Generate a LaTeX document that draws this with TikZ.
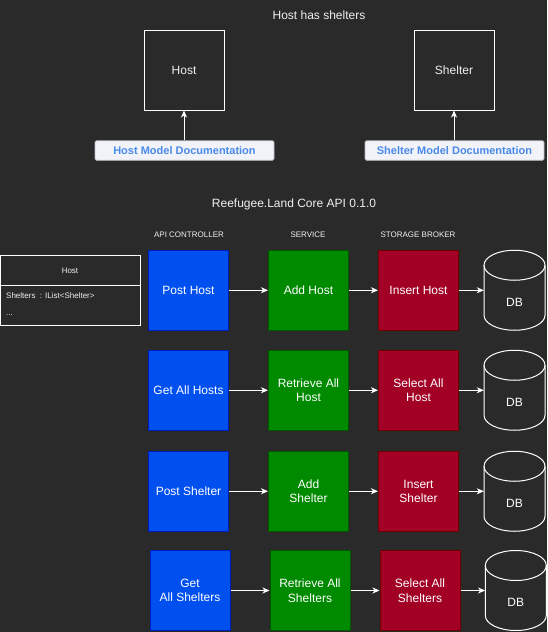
\documentclass[tikz,border=0pt]{standalone}
\usepackage{fontspec}
\setmainfont{Liberation Sans}
\usetikzlibrary{arrows.meta}
\definecolor{bg}{HTML}{2A2A2A}
\definecolor{ctrlfill}{HTML}{0050EF}
\definecolor{ctrlstroke}{HTML}{001DBC}
\definecolor{svcfill}{HTML}{008A00}
\definecolor{svcstroke}{HTML}{005700}
\definecolor{brkfill}{HTML}{A20025}
\definecolor{brkstroke}{HTML}{6F0000}
\definecolor{docfill}{HTML}{F1F3F8}
\definecolor{docstroke}{HTML}{B8BCC4}
\definecolor{doctext}{HTML}{4A8AE8}
\definecolor{lighttext}{HTML}{F0F0F0}
\newcommand\fs[2]{\fontsize{#1}{#2}\selectfont}
\tikzset{
  box/.style={rectangle, minimum width=80pt, minimum height=80pt, inner sep=0pt,
    line width=1pt, text=white, font=\fs{12}{14.5}, align=center},
  ctrl/.style={box, fill=ctrlfill, draw=ctrlstroke},
  svc/.style={box, fill=svcfill, draw=svcstroke},
  brk/.style={box, fill=brkfill, draw=brkstroke},
  model/.style={box, draw=white, text=lighttext},
  doc/.style={rectangle, rounded corners=1.5pt, fill=docfill, draw=docstroke, line width=0.8pt,
    minimum width=179pt, minimum height=19.5pt, inner sep=0pt, text=doctext, font=\bfseries\fs{11}{13}},
  dbnode/.style={rectangle, minimum width=61pt, minimum height=80pt, inner sep=0pt},
  dbline/.style={draw=white, line width=1pt},
  conn/.style={draw=white, line width=1pt, -{Stealth[length=7pt,width=6pt,inset=2pt]}},
  hdr/.style={text=lighttext, font=\fs{8}{10}, inner sep=0pt},
  ttl/.style={text=lighttext, font=\fs{12}{14.5}, inner sep=0pt},
  clstext/.style={text=lighttext, font=\fs{8}{10}, inner sep=0pt},
}
% \dbcyl{name}{center x}{top y}
\newcommand\dbcyl[3]{%
  \node[dbnode] (#1) at (#2,#3+40) {};
  \draw[dbline] (#2-30.5,#3+15) -- (#2-30.5,#3+65)
     .. controls (#2-30.5,#3+73.28) and (#2-16.84,#3+80) .. (#2,#3+80)
     .. controls (#2+16.84,#3+80) and (#2+30.5,#3+73.28) .. (#2+30.5,#3+65)
     -- (#2+30.5,#3+15);
  \draw[dbline] (#2,#3+15) ellipse [x radius=30.5pt, y radius=15pt];
  \node[text=white, font=\fs{12}{14.5}, inner sep=0pt] at (#2,#3+52) {DB};
}
\begin{document}
\begin{tikzpicture}[x=1pt,y=-1pt]
\fill[bg] (0,0) rectangle (547,632);
\useasboundingbox (0,0) rectangle (547,632);

% top section
\node[ttl] (t1) at (319,15.5) {Host has shelters};
\node[model] (mhost) at (184,70) {Host};
\node[model] (mshelter) at (454,70) {Shelter};
\node[doc] (dhost) at (184.5,150.5) {Host Model Documentation};
\node[doc] (dshelter) at (454.5,150.5) {Shelter Model Documentation};
\draw[conn] (dhost.north -| mhost.south) -- (mhost.south);
\draw[conn] (dshelter.north -| mshelter.south) -- (mshelter.south);

% API title and headers
\node[ttl] (t2) at (294,204) {Reefugee.Land Core API 0.1.0};
\node[hdr] (h1) at (189,235) {API CONTROLLER};
\node[hdr] (h2) at (308,235) {SERVICE};
\node[hdr] (h3) at (418,235) {STORAGE BROKER};

% class box
\node[rectangle, draw=white, line width=1pt, minimum width=139.5pt, minimum height=70pt, inner sep=0pt] (cls) at (70.25,290.25) {};
\draw[white, line width=1pt] (cls.west |- 0,285.3) -- (cls.east |- 0,285.3);
\node[clstext] (clsname) at (70,270.5) {Host};
\node[clstext, anchor=west] (clsattr) at (6,295.5) {Shelters\ \ : IList<Shelter>};
\node[clstext, anchor=west] (clsdots) at (6,315) {...};

% row 1
\node[ctrl] (c1) at (188.5,290.25) {Post Host};
\node[svc] (s1) at (308.5,290.25) {Add Host};
\node[brk] (b1) at (418.5,290.25) {Insert Host};
\dbcyl{db1}{514.5}{250.25}
% row 2
\node[ctrl] (c2) at (188.5,390.25) {Get All Hosts};
\node[svc] (s2) at (308.5,390.25) {Retrieve All\\Host};
\node[brk] (b2) at (418.5,390.25) {Select All\\Host};
\dbcyl{db2}{514.5}{350.25}
% row 3
\node[ctrl] (c3) at (188.5,491.25) {Post Shelter};
\node[svc] (s3) at (308.5,491.25) {Add\\Shelter};
\node[brk] (b3) at (418.5,491.25) {Insert\\Shelter};
\dbcyl{db3}{514.5}{451.25}
% row 4
\node[ctrl] (c4) at (190,590.5) {Get\\All Shelters};
\node[svc] (s4) at (310,590.5) {Retrieve All\\Shelters};
\node[brk] (b4) at (420,590.5) {Select All\\Shelters};
\dbcyl{db4}{515.8}{550.5}

\foreach \r in {1,2,3,4}{
  \draw[conn] (c\r.east) -- (s\r.west);
  \draw[conn] (s\r.east) -- (b\r.west);
  \draw[conn] (b\r.east) -- (db\r.west);
}
\end{tikzpicture}
\end{document}
